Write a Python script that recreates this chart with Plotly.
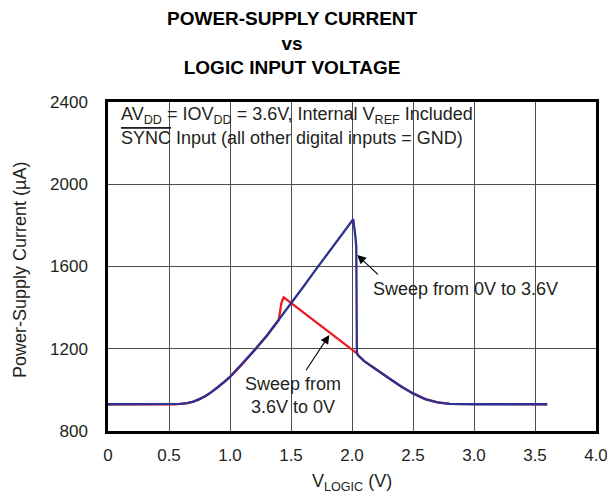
import plotly.graph_objects as go

# Sweep 0V -> 3.6V (blue)
up_v = [0.0, 0.5, 0.55, 0.6, 0.65, 0.7, 0.75, 0.8, 0.85, 0.9, 0.95, 1.0, 1.1, 1.2, 1.3, 1.4, 1.5,
        1.6, 1.7, 1.8, 1.9, 2.0, 2.01, 2.025, 2.035, 2.04, 2.05, 2.1, 2.2, 2.3, 2.4, 2.5, 2.6,
        2.7, 2.8, 3.0, 3.6]
up_i = [930, 930, 930, 932, 936, 943, 955, 970, 990, 1012, 1037, 1063, 1125, 1192, 1262, 1340, 1418,
        1500, 1582, 1662, 1745, 1822, 1830, 1760, 1700, 1180, 1168, 1140, 1097, 1058, 1018, 983, 955,
        939, 932, 930, 930]

# Sweep 3.6V -> 0V (red)
down_v = [3.6, 3.0, 2.8, 2.7, 2.6, 2.5, 2.4, 2.3, 2.2, 2.1, 2.05, 2.04, 2.0, 1.9, 1.8, 1.7, 1.6,
          1.5, 1.45, 1.44, 1.42, 1.41, 1.4, 1.3, 1.2, 1.1, 1.0, 0.95, 0.9, 0.85, 0.8, 0.75, 0.7,
          0.65, 0.6, 0.55, 0.5, 0.0]
down_i = [930, 930, 932, 939, 955, 983, 1018, 1058, 1097, 1140, 1168, 1178, 1196, 1241, 1287, 1334, 1380,
          1424, 1448, 1450, 1420, 1380, 1340, 1262, 1192, 1125, 1063, 1037, 1012, 990, 970, 955, 943,
          936, 932, 930, 930, 930]

x_ticks = [0, 0.5, 1.0, 1.5, 2.0, 2.5, 3.0, 3.5, 4.0]
x_tick_text = ["0", "0.5", "1.0", "1.5", "2.0", "2.5", "3.0", "3.5", "4.0"]
y_ticks = [800, 1200, 1600, 2000, 2400]

RED = "#ed1c24"
BLUE = "#2e3192"
TXT = "#231f20"
FONT = "Liberation Sans, Arial, sans-serif"

fig = go.Figure()
fig.add_trace(go.Scatter(x=down_v, y=down_i, mode="lines", line=dict(color=RED, width=2.3),
                         showlegend=False))
fig.add_trace(go.Scatter(x=up_v, y=up_i, mode="lines", line=dict(color=BLUE, width=2.3),
                         showlegend=False))

# white band covering grid at top for the condition text
fig.add_shape(type="rect", xref="paper", yref="paper", x0=0.003, x1=0.997, y0=0.813, y1=0.997,
              fillcolor="white", line=dict(width=0), layer="between")

# main title
fig.add_annotation(xref="paper", yref="paper", x=(292 - 108) / 488, y=1 + (102 - 43) / 329,
                   xanchor="center", yanchor="middle", showarrow=False,
                   text="<b>POWER-SUPPLY CURRENT<br>vs<br>LOGIC INPUT VOLTAGE</b>",
                   font=dict(size=19, color="black", family=FONT))

# axis titles
fig.add_annotation(xref="paper", yref="paper", x=(20 - 108) / 488, y=(431 - 270) / 329,
                   xanchor="center", yanchor="middle", showarrow=False, textangle=-90,
                   text="Power-Supply Current (µA)", font=dict(size=18, color=TXT, family=FONT))
fig.add_annotation(xref="paper", yref="paper", x=0.5, y=(431 - 483) / 329,
                   xanchor="center", yanchor="middle", showarrow=False,
                   text="V<sub>LOGIC</sub> (V)", font=dict(size=18, color=TXT, family=FONT))

# condition text
fig.add_annotation(xref="paper", yref="paper", x=0.022, y=(431 - 116) / 329, xanchor="left", yanchor="middle",
                   text="AV<sub>DD</sub> = IOV<sub>DD</sub> = 3.6V, Internal V<sub>REF</sub> Included",
                   showarrow=False, font=dict(size=18, color=TXT, family=FONT))
fig.add_annotation(xref="paper", yref="paper", x=0.022, y=(431 - 138) / 329, xanchor="left", yanchor="middle",
                   text="<span style='text-decoration:overline'>SYNC</span> Input (all other digital inputs = GND)",
                   showarrow=False, font=dict(size=18, color=TXT, family=FONT))

# arrows
fig.add_annotation(x=2.043, y=1656, ax=2.224, ay=1555, xref="x", yref="y", axref="x", ayref="y",
                   text="", showarrow=True, arrowhead=2, arrowsize=1.6, arrowwidth=1.1, arrowcolor="black")
fig.add_annotation(x=1.814, y=1267, ax=1.615, ay=1088, xref="x", yref="y", axref="x", ayref="y",
                   text="", showarrow=True, arrowhead=2, arrowsize=1.6, arrowwidth=1.1, arrowcolor="black")
fig.add_annotation(x=2.155, y=1490, xref="x", yref="y", xanchor="left", yanchor="middle",
                   text="Sweep from 0V to 3.6V", showarrow=False,
                   font=dict(size=18, color=TXT, family=FONT))
fig.add_annotation(x=1.516, y=973, xref="x", yref="y", xanchor="center", yanchor="middle",
                   text="Sweep from<br>3.6V to 0V", showarrow=False,
                   font=dict(size=18, color=TXT, family=FONT))

fig.update_layout(
    width=607, height=498,
    margin=dict(l=108, r=11, t=102, b=67, autoexpand=False),
    paper_bgcolor="white", plot_bgcolor="white",
    font=dict(family=FONT, size=17, color=TXT),
    xaxis=dict(range=[0, 4], tickvals=x_ticks, ticktext=x_tick_text,
               showgrid=True, gridcolor="#4d4d4d", gridwidth=1,
               showline=True, linecolor="black", linewidth=2.5, mirror=True,
               ticks="", ticklabelstandoff=7, zeroline=False, automargin=False,
               ticklabeloverflow="allow",
               tickfont=dict(size=17, family=FONT, color=TXT)),
    yaxis=dict(range=[800, 2400], tickvals=y_ticks,
               showgrid=True, gridcolor="#4d4d4d", gridwidth=1,
               showline=True, linecolor="black", linewidth=2.5, mirror=True,
               ticks="", ticklabelstandoff=14, zeroline=False, automargin=False,
               ticklabeloverflow="allow",
               tickfont=dict(size=17, family=FONT, color=TXT)),
)

fig.write_html("out.html", config={"displayModeBar": False},
               post_script="document.body.style.margin='0';document.body.style.overflow='hidden';")
